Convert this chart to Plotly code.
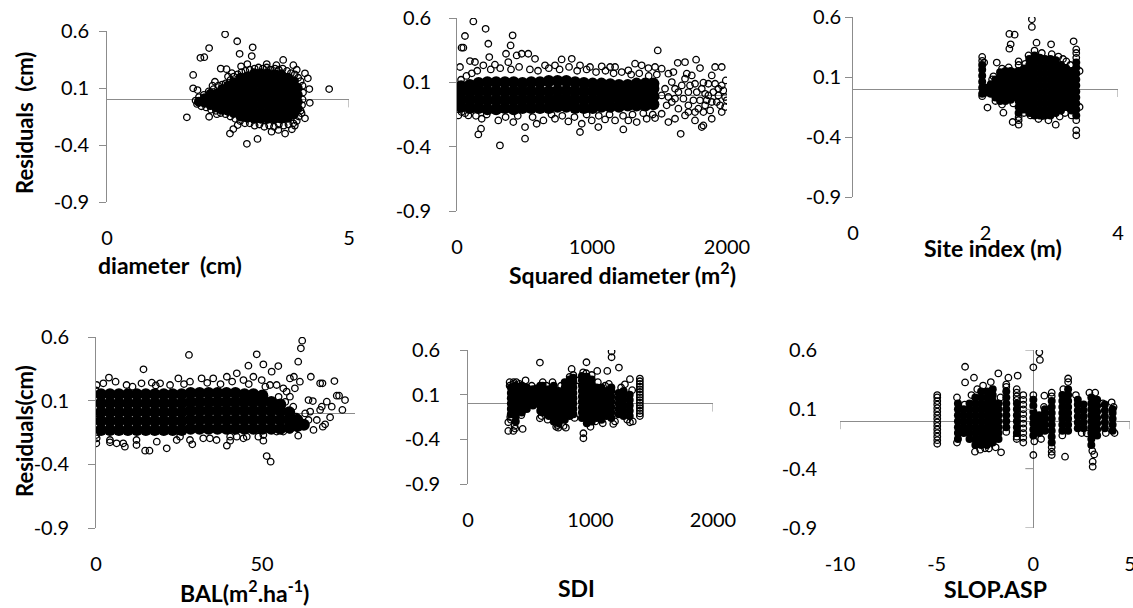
import plotly.graph_objects as go

W, H = 1133, 608

# ================= DATA =================
# Panel 1 : Residuals vs diameter (cm)
p1_core = [
    (1.90, [-0.02]),
    (2.02, [-0.03, 0.01]),
    (2.14, [-0.05, 0.01, 0.05]),
    (2.26, [-0.07, -0.01, 0.05]),
    (2.38, [-0.09, -0.03, 0.03, 0.09]),
    (2.50, [-0.10, -0.04, 0.02, 0.08, 0.12]),
    (2.62, [-0.12, -0.06, 0.00, 0.06, 0.12, 0.15]),
    (2.76, [-0.15, -0.09, -0.03, 0.03, 0.09, 0.15, 0.19]),
    (2.90, [-0.16, -0.10, -0.04, 0.02, 0.08, 0.14, 0.20]),
    (3.04, [-0.17, -0.11, -0.05, 0.01, 0.07, 0.13, 0.19, 0.23]),
    (3.18, [-0.17, -0.11, -0.05, 0.01, 0.07, 0.13, 0.19, 0.23]),
    (3.32, [-0.17, -0.11, -0.05, 0.01, 0.07, 0.13, 0.19, 0.23]),
    (3.46, [-0.17, -0.11, -0.05, 0.01, 0.07, 0.13, 0.19, 0.22]),
    (3.60, [-0.17, -0.11, -0.05, 0.01, 0.07, 0.13, 0.19, 0.22]),
    (3.74, [-0.16, -0.10, -0.04, 0.02, 0.08, 0.14, 0.19]),
    (3.86, [-0.13, -0.07, -0.01, 0.05, 0.11, 0.16]),
    (3.94, [-0.08, -0.02, 0.04, 0.10]),
]
p1_open = [
    (2.45, 0.14), (2.55, 0.17), (2.62, 0.20), (2.70, 0.22), (2.78, 0.24), (2.86, 0.25),
    (2.95, 0.26), (3.05, 0.27), (3.13, 0.28), (3.22, 0.27), (3.30, 0.28), (3.38, 0.26),
    (3.47, 0.27), (3.55, 0.26), (3.63, 0.27), (3.72, 0.25), (3.80, 0.23), (3.88, 0.22),
    (3.95, 0.19), (4.00, 0.16), (4.04, 0.12), (4.05, 0.06), (4.04, 0.00), (4.03, -0.05),
    (4.00, -0.10), (3.96, -0.15), (3.92, -0.19), (3.85, -0.21), (3.75, -0.22), (3.65, -0.23),
    (3.55, -0.22), (3.45, -0.24), (3.35, -0.23), (3.25, -0.24), (3.15, -0.22), (3.05, -0.23),
    (2.95, -0.21), (2.85, -0.21), (2.75, -0.19), (2.65, -0.17), (2.55, -0.15), (2.45, -0.13),
    (2.35, -0.12), (2.25, -0.10), (2.15, -0.09), (2.05, -0.07), (1.95, -0.06), (1.86, -0.04),
    (1.83, -0.01), (1.90, 0.02), (2.00, 0.04), (2.10, 0.07), (2.20, 0.09), (2.30, 0.12),
    (2.38, 0.13),
    (2.44, 0.571), (2.69, 0.51), (3.01, 0.457), (2.11, 0.45), (2.01, 0.37), (1.93, 0.365),
    (2.74, 0.40), (2.99, 0.38), (3.64, 0.346), (1.78, 0.215), (2.35, 0.27), (2.47, 0.265),
    (1.78, 0.097), (1.87, 0.082), (2.23, 0.155), (2.77, 0.29), (1.65, -0.157), (2.11, -0.152),
    (2.27, -0.13), (2.54, -0.30), (2.61, -0.26), (2.70, -0.225), (2.89, -0.39), (3.11, -0.347),
    (3.40, -0.283), (3.54, -0.268), (3.68, -0.30), (3.82, -0.262), (3.88, -0.23), (4.18, 0.091),
    (4.19, -0.03), (4.15, 0.185), (4.09, 0.229), (4.02, -0.122), (4.09, -0.166), (4.59, 0.091),
    (2.50, 0.20), (2.58, 0.23), (3.85, 0.30), (3.92, 0.26), (2.18, 0.12), (2.90, 0.31),
    (3.30, 0.31), (3.50, 0.30),
]

# Panel 2 : Residuals vs squared diameter
p2_core = [
    (30, [-0.09, -0.03, 0.03, 0.07]),
    (95, [-0.10, -0.035, 0.03, 0.08]),
    (160, [-0.10, -0.035, 0.03, 0.095]),
    (225, [-0.11, -0.04, 0.03, 0.10]),
    (290, [-0.11, -0.04, 0.03, 0.10]),
    (355, [-0.10, -0.035, 0.03, 0.10]),
    (420, [-0.11, -0.04, 0.03, 0.10]),
    (485, [-0.10, -0.035, 0.03, 0.095]),
    (550, [-0.10, -0.035, 0.03, 0.10]),
    (615, [-0.10, -0.035, 0.03, 0.10]),
    (680, [-0.10, -0.035, 0.03, 0.11]),
    (745, [-0.09, -0.03, 0.035, 0.11]),
    (810, [-0.09, -0.03, 0.035, 0.11]),
    (875, [-0.10, -0.035, 0.03, 0.10]),
    (940, [-0.10, -0.035, 0.03, 0.095]),
    (1005, [-0.10, -0.035, 0.03, 0.09]),
    (1070, [-0.09, -0.03, 0.03, 0.09]),
    (1135, [-0.09, -0.03, 0.03, 0.085]),
    (1200, [-0.09, -0.03, 0.03, 0.08]),
    (1265, [-0.08, -0.02, 0.04, 0.08]),
    (1330, [-0.08, -0.02, 0.04, 0.09]),
    (1395, [-0.08, -0.02, 0.04, 0.09]),
    (1455, [-0.07, -0.01, 0.05, 0.09]),
]
p2_open = [
    (121, 0.573), (212, 0.516), (59, 0.46), (232, 0.40), (34, 0.369), (47, 0.369),
    (412, 0.465), (397, 0.387), (239, 0.296), (363, 0.322), (1487, 0.348), (22, 0.219),
    (96, 0.265), (133, 0.258), (318, -0.39), (504, -0.338), (158, -0.305), (178, -0.26),
    (911, -0.286), (1047, -0.248), (1232, -0.266), (1657, -0.30), (1813, -0.248), (10, -0.157),
    (1635, 0.252), (1689, 0.257), (1771, 0.276), (1800, 0.211), (1887, 0.154), (1961, 0.219),
    (1912, 0.219), (1991, 0.115), (1936, 0.050), (1862, 0.089), (1825, 0.097), (1739, 0.154),
    (1702, 0.167), (1603, 0.180), (1566, 0.167), (1516, 0.206), (1467, 0.219), (1418, 0.211),
    (1368, 0.232), (1319, 0.245), (1269, 0.193), (1171, 0.219), (1134, 0.219), (1072, 0.224),
    (985, 0.219), (911, 0.232), (850, 0.283), (775, 0.278), (726, 0.232), (652, 0.232),
    (578, 0.283), (528, 0.322), (479, 0.322), (442, 0.309), (380, 0.257), (281, 0.237),
    (195, 0.232),
    (1566, -0.209), (1615, -0.183), (1689, -0.157), (1763, -0.196), (1825, -0.235),
    (1887, -0.183), (1961, -0.131), (1986, -0.092), (1924, -0.053), (1838, -0.079),
    (1763, -0.131), (1714, -0.079), (1640, -0.105), (1591, -0.053), (1862, -0.002),
    (1936, -0.002), (1973, 0.037), (1800, -0.040), (1714, 0.024), (1665, 0.076),
    (1615, 0.050), (1566, -0.014), (1763, 0.089), (1838, 0.011),
    (34, -0.131), (84, -0.157), (183, -0.183), (306, -0.196), (417, -0.209), (504, -0.248),
    (590, -0.222), (640, -0.196), (726, -0.183), (825, -0.204), (924, -0.222), (998, -0.196),
    (1097, -0.188), (1171, -0.196), (1269, -0.196), (1331, -0.209), (1405, -0.183),
    (1467, -0.178), (1516, -0.144),
    (1516, -0.002), (1541, 0.050), (1553, -0.079), (1591, 0.102), (1615, -0.027),
    (1640, 0.024), (1677, -0.027), (1689, 0.128), (1714, -0.131), (1726, 0.076),
    (1751, -0.040), (1776, 0.024), (1788, -0.105), (1813, 0.050), (1850, -0.040),
    (1875, -0.118), (1899, 0.024), (1912, 0.089), (1949, -0.079), (1961, 0.076),
    (1986, -0.014), (1998, -0.040), (1887, -0.053), (1825, -0.131),
    (30, 0.12), (70, 0.15), (110, 0.17), (150, 0.19), (250, 0.20), (320, 0.21), (400, 0.20),
    (460, 0.22), (540, 0.20), (600, 0.19), (680, 0.21), (760, 0.20), (830, 0.22), (890, 0.19),
    (960, 0.20), (1030, 0.18), (1100, 0.19), (1160, 0.17), (1220, 0.18), (1290, 0.16),
    (1350, 0.17), (1420, 0.15), (1480, 0.16),
    (60, -0.14), (140, -0.16), (220, -0.15), (360, -0.17), (450, -0.16), (560, -0.17),
    (700, -0.15), (780, -0.16), (870, -0.17), (960, -0.15), (1050, -0.16), (1130, -0.15),
    (1230, -0.16), (1300, -0.15), (1380, -0.14), (1450, -0.15),
]

# Panel 3 : Residuals vs site index (m)
p3_core = [
    (1.95, [-0.04, 0.01, 0.06, 0.11, 0.16, 0.20]),
    (2.02, [-0.03, 0.01]),
    (2.08, [-0.04, 0.01, 0.04]),
    (2.15, [-0.07, -0.02, 0.03, 0.08]),
    (2.22, [-0.10, -0.05, 0.00, 0.05, 0.10, 0.14]),
    (2.30, [-0.10, -0.05, 0.00, 0.05, 0.10, 0.15]),
    (2.38, [-0.09, -0.04, 0.01, 0.06, 0.11, 0.15]),
    (2.44, [-0.06, -0.01, 0.04, 0.09, 0.14]),
    (2.50, [-0.20, -0.15, -0.10, -0.05, 0.00, 0.05, 0.10, 0.15]),
    (2.58, [-0.17, -0.12, -0.07, -0.02, 0.03, 0.08, 0.13, 0.17]),
    (2.66, [-0.20, -0.15, -0.10, -0.05, 0.00, 0.05, 0.10, 0.15, 0.20, 0.25]),
    (2.74, [-0.22, -0.17, -0.12, -0.07, -0.02, 0.03, 0.08, 0.13, 0.18, 0.23, 0.28]),
    (2.82, [-0.22, -0.17, -0.12, -0.07, -0.02, 0.03, 0.08, 0.13, 0.18, 0.23, 0.26]),
    (2.90, [-0.22, -0.17, -0.12, -0.07, -0.02, 0.03, 0.08, 0.13, 0.18, 0.23, 0.25]),
    (2.98, [-0.22, -0.17, -0.12, -0.07, -0.02, 0.03, 0.08, 0.13, 0.18, 0.23, 0.25]),
    (3.06, [-0.20, -0.15, -0.10, -0.05, 0.00, 0.05, 0.10, 0.15, 0.20, 0.24]),
    (3.14, [-0.18, -0.13, -0.08, -0.03, 0.02, 0.07, 0.12, 0.17, 0.20]),
    (3.22, [-0.15, -0.10, -0.05, 0.00, 0.05, 0.10, 0.15, 0.17]),
    (3.30, [-0.18, -0.13, -0.08, -0.03, 0.02, 0.07, 0.12, 0.15]),
    (3.37, [-0.22, -0.17, -0.12, -0.07, -0.02, 0.03, 0.08, 0.13, 0.18, 0.22]),
]
p3_open = [
    (2.70, 0.581), (2.70, 0.517), (2.36, 0.459), (2.44, 0.453), (2.38, 0.372), (2.36, 0.336),
    (2.77, 0.386), (2.99, 0.372), (1.95, 0.267), (1.95, 0.235), (2.17, 0.22), (2.12, 0.106),
    (2.03, -0.155), (2.27, -0.197), (2.41, -0.275), (2.50, -0.26), (2.50, -0.297),
    (2.50, -0.235), (2.50, 0.20), (2.50, 0.23), (2.71, -0.205), (2.86, -0.225), (2.95, -0.261),
    (3.06, -0.297), (3.22, 0.23), (3.33, 0.397), (3.37, -0.344), (3.37, -0.386), (3.37, -0.26),
    (3.37, 0.26), (3.37, 0.30), (3.37, 0.33), (3.42, -0.15), (3.42, 0.15), (2.60, 0.21),
    (2.65, 0.28), (2.74, 0.32), (2.85, 0.30), (3.00, 0.29), (3.10, 0.27), (3.17, 0.25),
    (3.28, 0.20), (3.30, -0.22), (3.20, -0.20), (3.12, -0.23), (2.80, -0.25), (2.68, -0.22),
    (2.58, -0.20), (2.42, -0.12), (2.25, -0.13), (2.15, -0.10), (2.10, 0.08), (2.25, 0.17),
    (2.35, 0.18), (1.95, -0.06), (1.98, 0.22),
]

# Panel 4 : Residuals vs BAL (m2.ha-1)
p4_core = [
    (1.5, [-0.13, -0.06, 0.01, 0.08, 0.15]),
    (4.2, [-0.13, -0.06, 0.01, 0.08, 0.15]),
    (6.9, [-0.13, -0.06, 0.01, 0.08, 0.15]),
    (9.6, [-0.13, -0.06, 0.01, 0.08, 0.15]),
    (12.3, [-0.13, -0.06, 0.01, 0.08, 0.15]),
    (15.0, [-0.13, -0.06, 0.01, 0.08, 0.15]),
    (17.7, [-0.13, -0.06, 0.01, 0.08, 0.15]),
    (20.4, [-0.13, -0.06, 0.01, 0.08, 0.15]),
    (23.1, [-0.13, -0.06, 0.01, 0.08, 0.15]),
    (25.8, [-0.13, -0.06, 0.01, 0.08, 0.15]),
    (28.5, [-0.12, -0.05, 0.02, 0.09, 0.16]),
    (31.2, [-0.12, -0.05, 0.02, 0.09, 0.16]),
    (33.9, [-0.12, -0.05, 0.02, 0.09, 0.16]),
    (36.6, [-0.12, -0.05, 0.02, 0.09, 0.16]),
    (39.3, [-0.12, -0.05, 0.02, 0.09, 0.16]),
    (42.0, [-0.12, -0.05, 0.02, 0.09, 0.16]),
    (44.7, [-0.12, -0.05, 0.02, 0.09, 0.15]),
    (47.4, [-0.12, -0.05, 0.02, 0.09, 0.15]),
    (50.1, [-0.12, -0.05, 0.02, 0.09, 0.14]),
    (52.8, [-0.12, -0.05, 0.02, 0.09]),
    (55.5, [-0.12, -0.05, 0.02, 0.07]),
    (58.2, [-0.11, -0.05, 0.01]),
    (60.6, [-0.10, -0.05]),
    (62.6, [-0.09]),
]
p4_open = [
    (62.1, 0.571), (61.7, 0.511), (60.9, 0.406), (28.0, 0.459), (48.4, 0.464), (14.3, 0.346),
    (50.4, 0.385), (54.9, 0.372), (45.9, 0.375), (52.9, 0.328), (64.7, 0.288), (67.5, 0.236),
    (68.2, 0.236), (71.8, 0.254), (72.5, 0.139), (73.2, 0.139), (75.0, 0.105), (74.2, 0.027),
    (71.0, 0.053), (69.5, 0.092), (68.0, 0.053), (67.5, 0.027), (70.5, -0.031), (69.0, -0.086),
    (68.3, -0.104), (66.5, -0.052), (65.5, -0.13), (64.0, 0.105), (65.3, 0.097),
    (51.4, -0.335), (52.6, -0.379), (14.8, -0.293), (16.1, -0.293), (21.3, -0.274),
    (29.0, -0.243), (39.4, -0.253), (40.4, -0.214), (42.4, -0.183), (50.4, -0.214),
    (60.9, -0.175), (0.1, -0.235), (4.2, -0.227), (6.2, -0.235), (8.7, -0.261), (12.2, -0.248),
    (25.3, -0.183), (34.3, -0.196), (44.4, -0.196), (48.9, -0.183),
    (58.4, 0.275), (59.6, 0.288), (61.4, 0.249), (59.9, 0.197), (56.4, 0.197), (57.4, 0.171),
    (54.4, 0.223),
    (0.2, 0.223), (2.2, 0.236), (3.9, 0.281), (5.9, 0.249), (9.2, 0.223), (13.7, 0.236),
    (16.8, 0.241), (19.3, 0.236), (22.3, 0.223), (24.8, 0.275), (28.3, 0.249), (31.8, 0.275),
    (35.3, 0.275), (39.4, 0.288), (42.4, 0.315), (44.4, 0.262), (47.4, 0.288), (49.9, 0.262),
    (52.4, 0.223), (11.0, 0.21), (18.0, 0.22), (26.5, 0.23), (33.5, 0.24), (37.5, 0.23),
    (41.0, 0.25), (46.0, 0.23), (51.0, 0.21),
    (58.4, 0.131), (59.4, 0.053), (60.4, -0.026), (62.4, -0.078), (61.4, -0.104), (63.0, 0.0),
    (64.0, -0.052), (64.5, 0.014), (58.4, -0.13), (56.4, -0.143), (55.0, 0.13), (57.0, 0.09),
    (0.2, -0.196), (4.2, -0.209), (8.2, -0.235), (12.2, -0.209), (18.3, -0.222),
    (24.3, -0.209), (28.3, -0.209), (32.3, -0.196), (36.3, -0.209), (40.4, -0.183),
    (45.4, -0.183), (50.4, -0.17), (54.4, -0.143), (0.0, 0.18), (0.0, -0.17), (0.0, 0.0),
]

# Panel 5 : Residuals vs SDI
p5_core = [
    (350, [-0.12, -0.06, 0.00, 0.06, 0.12, 0.18]),
    (390, [-0.20, -0.14, -0.08, -0.02, 0.04, 0.10, 0.16, 0.20]),
    (440, [-0.10, -0.04, 0.02, 0.08, 0.14, 0.20]),
    (480, [-0.06, 0.00, 0.06, 0.12, 0.18]),
    (530, [-0.02, 0.04, 0.10, 0.16]),
    (560, [0.00, 0.06, 0.12, 0.17]),
    (590, [-0.08, -0.02, 0.04, 0.10, 0.16, 0.20]),
    (610, [-0.10, -0.04, 0.02, 0.08, 0.14, 0.20]),
    (660, [-0.14, -0.08, -0.02, 0.04, 0.10, 0.16]),
    (700, [-0.20, -0.14, -0.08, -0.02, 0.04, 0.10, 0.16, 0.20]),
    (740, [-0.22, -0.16, -0.10, -0.04, 0.02, 0.08, 0.14]),
    (790, [-0.18, -0.12, -0.06, 0.00, 0.06, 0.12, 0.18, 0.24]),
    (830, [-0.14, -0.08, -0.02, 0.04, 0.10, 0.16, 0.22, 0.27]),
    (860, [-0.12, -0.06, 0.00, 0.06, 0.12, 0.18, 0.24, 0.29]),
    (930, [-0.16, -0.10, -0.04, 0.02, 0.08, 0.14, 0.20, 0.26, 0.31]),
    (970, [-0.22, -0.16, -0.10, -0.04, 0.02, 0.08, 0.14, 0.20, 0.26, 0.30]),
    (1010, [-0.20, -0.14, -0.08, -0.02, 0.04, 0.10, 0.16, 0.22, 0.27]),
    (1050, [-0.16, -0.10, -0.04, 0.02, 0.08, 0.14, 0.18]),
    (1090, [-0.18, -0.12, -0.06, 0.00, 0.06, 0.12, 0.18]),
    (1130, [-0.14, -0.08, -0.02, 0.04, 0.10, 0.14]),
    (1170, [-0.16, -0.10, -0.04, 0.02, 0.08, 0.14, 0.18]),
    (1230, [-0.12, -0.06, 0.00, 0.06, 0.12]),
    (1270, [-0.14, -0.08, -0.02, 0.04, 0.10, 0.14]),
    (1320, [-0.14, -0.08, -0.02, 0.04, 0.10]),
]
p5_open = [
    (1172, 0.582), (1172, 0.519), (1055, 0.366), (1137, 0.366), (1232, 0.403), (846, 0.388),
    (1322, 0.273), (1281, 0.216), (446, -0.284), (737, -0.269), (799, -0.269), (587, -0.164),
    (1186, -0.228), (1322, -0.209), (329, -0.306), (370, -0.306), (587, 0.459), (942, -0.332),
    (942, -0.388), (967, 0.463), (329, -0.209),
    (1403, -0.14), (1403, -0.11), (1403, -0.08), (1403, -0.05), (1403, -0.02), (1403, 0.01),
    (1403, 0.04), (1403, 0.07), (1403, 0.10), (1403, 0.13), (1403, 0.16), (1403, 0.19),
    (1403, 0.22), (1403, 0.25), (1403, 0.28),
    (340, 0.20), (340, 0.24), (345, -0.15), (372, 0.22), (372, 0.24), (380, -0.25),
    (385, -0.28), (395, 0.24), (350, -0.18), (420, 0.22), (435, -0.13), (470, 0.26),
    (520, 0.20), (600, -0.14), (610, 0.24), (640, 0.20), (650, -0.18), (690, 0.24),
    (720, -0.26), (730, -0.24), (760, 0.20), (780, -0.25), (830, 0.30), (860, 0.32),
    (870, -0.16), (900, 0.26), (940, 0.35), (965, 0.34), (1000, -0.26), (1010, 0.32),
    (1040, -0.20), (1060, 0.24), (1100, -0.22), (1120, 0.20), (1150, 0.22), (1200, -0.20),
    (1250, 0.18), (1300, -0.18), (1340, 0.15), (1345, -0.20),
]

# Panel 6 : Residuals vs SLOP.ASP
p6_core = [
    (-3.9, [-0.15, -0.10, -0.05, 0.00, 0.05, 0.10, 0.15]),
    (-3.6, [-0.10, -0.05, 0.00, 0.05, 0.10]),
    (-3.3, [-0.15, -0.10, -0.05, 0.00, 0.05, 0.10, 0.15]),
    (-3.0, [-0.20, -0.15, -0.10, -0.05, 0.00, 0.05, 0.10, 0.15, 0.20]),
    (-2.7, [-0.20, -0.15, -0.10, -0.05, 0.00, 0.05, 0.10, 0.15, 0.20, 0.25]),
    (-2.4, [-0.20, -0.15, -0.10, -0.05, 0.00, 0.05, 0.10, 0.15, 0.20, 0.25]),
    (-2.1, [-0.18, -0.13, -0.08, -0.03, 0.02, 0.07, 0.12, 0.17, 0.22, 0.27]),
    (-1.8, [-0.15, -0.10, -0.05, 0.00, 0.05, 0.10, 0.15]),
    (-1.4, [-0.05, 0.00, 0.05, 0.10, 0.15, 0.20, 0.25]),
    (-0.85, [-0.10, -0.05, 0.00, 0.05, 0.10, 0.15]),
    (0.0, [-0.12, -0.07, -0.02, 0.03, 0.08, 0.13, 0.18]),
    (0.3, [-0.10, -0.05, 0.00, 0.05]),
    (0.6, [-0.08, -0.03, 0.02, 0.07, 0.10]),
    (0.95, [-0.18, -0.13, -0.08, -0.03, 0.02, 0.07, 0.12, 0.17]),
    (1.5, [-0.08, -0.03, 0.02, 0.07, 0.12, 0.17, 0.22]),
    (1.8, [-0.08, -0.03, 0.02, 0.07, 0.12, 0.17, 0.22, 0.27]),
    (2.3, [-0.06, -0.01, 0.04, 0.09, 0.14, 0.18]),
    (2.6, [-0.06, -0.01, 0.04, 0.09, 0.14]),
    (3.0, [-0.20, -0.15, -0.10, -0.05, 0.00, 0.05, 0.10, 0.15, 0.20]),
    (3.3, [-0.12, -0.07, -0.02, 0.03, 0.08, 0.13, 0.18]),
    (3.7, [-0.06, -0.01, 0.04, 0.09, 0.14]),
    (4.1, [-0.08, -0.03, 0.02, 0.07, 0.10]),
]
p6_open = [
    (0.31, 0.58), (0.34, 0.516), (0.0, 0.454), (-3.53, 0.459), (-3.53, 0.327), (-3.07, 0.367),
    (-1.81, 0.403), (-1.29, 0.367), (-0.81, 0.384), (0.57, 0.215), (0.0, -0.285), (1.64, -0.299),
    (-1.67, -0.262), (-2.5, -0.228), (-3.02, -0.257), (3.07, -0.341), (3.07, -0.383),
    (4.05, 0.159), (0.95, -0.257), (0.95, -0.285), (2.76, -0.102),
    (-4.97, -0.19), (-4.97, -0.16), (-4.97, -0.13), (-4.97, -0.10), (-4.97, -0.07),
    (-4.97, -0.04), (-4.97, -0.01), (-4.97, 0.02), (-4.97, 0.05), (-4.97, 0.08),
    (-4.97, 0.11), (-4.97, 0.14), (-4.97, 0.17), (-4.97, 0.20), (-4.97, 0.22),
    (-0.52, -0.18), (-0.52, -0.14), (-0.52, -0.10), (-0.52, -0.06), (-0.52, -0.02),
    (-0.52, 0.02), (-0.52, 0.06), (-0.52, 0.10), (-0.52, 0.14), (-0.52, 0.18), (-0.52, 0.22),
    (-0.86, -0.15), (-0.86, -0.13), (-0.86, 0.18), (-0.86, 0.21), (-0.86, 0.24), (-0.86, 0.27),
    (0.95, -0.22), (0.95, 0.21), (0.95, 0.24), (-1.4, -0.09), (-1.4, 0.29),
    (-3.95, 0.20), (-3.95, -0.18), (-3.55, 0.14), (-3.2, 0.22), (-2.9, 0.27), (-2.6, 0.30),
    (-2.2, 0.33), (-2.75, -0.24), (-2.3, -0.23), (-1.95, -0.22), (-1.7, 0.20), (-1.4, 0.31),
    (0.0, 0.22), (0.05, -0.17), (0.4, -0.15), (0.55, 0.12), (1.55, 0.27), (1.8, 0.33),
    (1.8, 0.36), (1.5, -0.12), (2.2, 0.22), (2.5, -0.10), (2.9, 0.24), (3.2, 0.24),
    (3.05, -0.25), (3.15, -0.28), (3.6, 0.15), (3.75, -0.10), (4.15, 0.12), (4.2, -0.10),
]

x_ticks = [[0, 5], [0, 1000, 2000], [0, 2, 4], [0, 50], [0, 1000, 2000], [-10, -5, 0, 5]]
x_ranges = [[0, 5], [0, 2000], [0, 4], [0, 78], [0, 2000], [-10, 5]]
y_ticks = [-0.9, -0.4, 0.1, 0.6]
x_titles = ["<b>diameter\u00a0 (cm)</b>", "<b>Squared diameter (m<sup>2</sup>)</b>",
            "<b>Site index (m)</b>", "<b>BAL(m<sup>2</sup>.ha<sup>-1</sup>)</b>",
            "<b>SDI</b>", "<b>SLOP.ASP</b>"]
y_titles = ["<b>Residuals\u00a0 (cm)</b>", "<b>Residuals(cm)</b>"]

# ================= LAYOUT (pixel boxes of the plot areas) =================
boxes = [  # left, right, top, bottom in px
    (107, 349, 31, 202),
    (457, 727, 18, 211),
    (853, 1118, 17, 197),
    (96, 355, 337, 528),
    (468, 713, 350, 484),
    (840, 1130, 350, 528),
]
y_standoff = [6, 14, 0, 15, 16, 22]
GRAY = "#8c8c8c"
FONT = "Lato"
TICK_SIZE = 20
TITLE_SIZE = 23
YTITLE_SIZE = 22


def flatten(cols):
    xs, ys = [], []
    for xv, yl in cols:
        for yv in yl:
            xs.append(xv)
            ys.append(yv)
    return xs, ys


def fmt(v):
    return str(v) if isinstance(v, int) else f"{v:.1f}"


cores = [p1_core, p2_core, p3_core, p4_core, p5_core, p6_core]
opens = [p1_open, p2_open, p3_open, p4_open, p5_open, p6_open]
core_sizes = [10, 12, 8, 12, 8, 8]

fig = go.Figure()
layout = dict(
    width=W, height=H, margin=dict(l=0, r=0, t=0, b=0, autoexpand=False),
    paper_bgcolor="white", plot_bgcolor="white", showlegend=False,
    font=dict(family=FONT, size=TICK_SIZE, color="black"),
)
shapes = []
annotations = []

for i in range(6):
    n = "" if i == 0 else str(i + 1)
    xa, ya = "x" + n, "y" + n
    l, r, t, b = boxes[i]
    cx, cy = flatten(cores[i])
    fig.add_trace(go.Scatter(
        x=cx, y=cy, mode="markers", xaxis=xa, yaxis=ya, hoverinfo="skip",
        marker=dict(symbol="circle", size=core_sizes[i], color="black", line=dict(width=0)),
    ))
    ox = [p[0] for p in opens[i]]
    oy = [p[1] for p in opens[i]]
    fig.add_trace(go.Scatter(
        x=ox, y=oy, mode="markers", xaxis=xa, yaxis=ya,
        marker=dict(symbol="circle-open", size=6.5, color="black", line=dict(width=1.3, color="black")),
    ))
    last = (i == 5)
    layout["xaxis" + n] = dict(
        domain=[l / W, r / W], anchor=ya, range=x_ranges[i], tickvals=x_ticks[i],
        ticktext=[fmt(v) for v in x_ticks[i]], automargin=False, ticklabeloverflow="allow",
        showgrid=False, showline=False, ticks="", zeroline=last,
        zerolinecolor=GRAY, zerolinewidth=1, ticklabelstandoff=22,
        tickfont=dict(family=FONT, size=TICK_SIZE, color="black"),
    )
    layout["yaxis" + n] = dict(
        domain=[1 - b / H, 1 - t / H], anchor=xa, range=[-0.9, 0.6], tickvals=y_ticks,
        ticktext=[fmt(v) for v in y_ticks], automargin=False,
        showgrid=False, showline=not last, linecolor=GRAY, linewidth=1,
        ticks="" if last else "outside", ticklen=7, tickcolor=GRAY, tickwidth=1,
        zeroline=True, zerolinecolor=GRAY, zerolinewidth=1,
        ticklabelstandoff=y_standoff[i],
        tickfont=dict(family=FONT, size=TICK_SIZE, color="black"),
    )
    # small end tick at the right end of the horizontal axis line
    if i in (0, 2, 4, 5):
        shapes.append(dict(type="line", xref=xa, yref=ya, x0=x_ranges[i][1], x1=x_ranges[i][1],
                           ysizemode="pixel", yanchor=0, y0=0, y1=-8,
                           line=dict(color=GRAY, width=1)))
    if last:
        shapes.append(dict(type="line", xref=xa, yref=ya, x0=-10, x1=-10,
                           ysizemode="pixel", yanchor=0, y0=0, y1=-8,
                           line=dict(color=GRAY, width=1)))
        for v in y_ticks:
            shapes.append(dict(type="line", xref=xa, yref=ya, y0=v, y1=v,
                               xsizemode="pixel", xanchor=0, x0=-8, x1=0,
                               line=dict(color=GRAY, width=1)))

# axis titles (pixel positions -> paper)
title_pos = [(170, 265, "center"), (507, 273, "left"), (993, 248, "center"),
             (244, 591, "center"), (577, 588, "center"), (995, 589, "center")]
for txt, (px, py, anc) in zip(x_titles, title_pos):
    annotations.append(dict(text=txt, x=px / W, y=1 - py / H, xref="paper", yref="paper",
                            xanchor=anc, yanchor="middle", showarrow=False,
                            font=dict(family=FONT, size=TITLE_SIZE, color="black")))
for txt, (px, py) in zip(y_titles, [(25, 123), (24, 431)]):
    annotations.append(dict(text=txt, x=px / W, y=1 - py / H, xref="paper", yref="paper",
                            xanchor="center", yanchor="middle", showarrow=False, textangle=-90,
                            font=dict(family=FONT, size=YTITLE_SIZE, color="black")))

layout["shapes"] = shapes
layout["annotations"] = annotations
fig.update_layout(**layout)
fig.write_html(
    "out.html",
    config={"displayModeBar": False},
    post_script="document.body.style.margin='0';document.body.style.overflow='hidden';",
)
